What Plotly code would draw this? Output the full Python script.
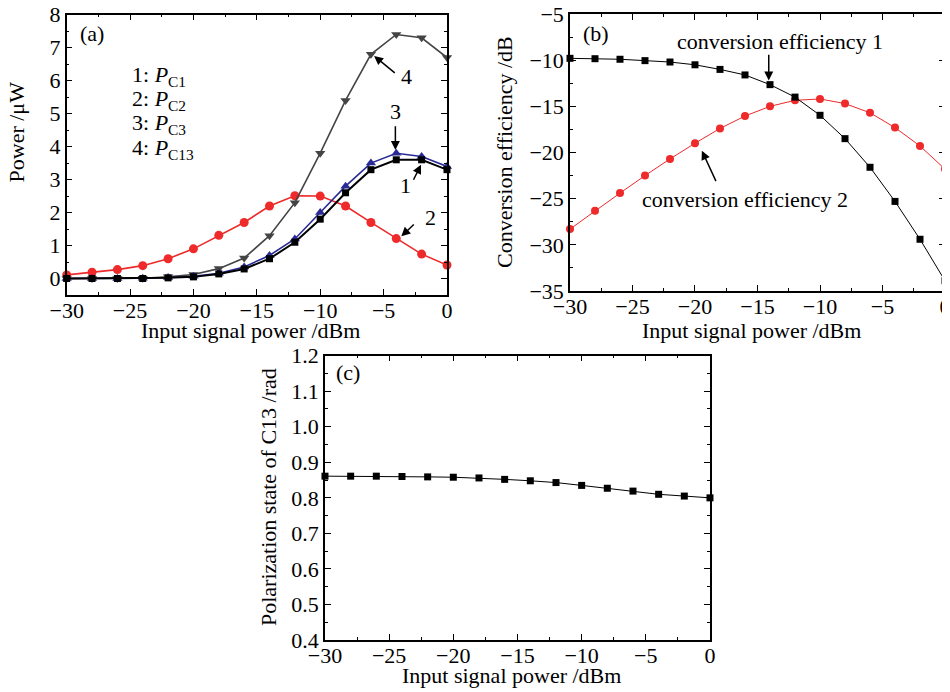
import plotly.graph_objects as go

x_dbm = [-30, -28, -26, -24, -22, -20, -18, -16, -14, -12, -10, -8, -6, -4, -2, 0]

# Panel (a): power /uW
p_c1 = [0.0, 0.0, 0.0, 0.0, 0.02, 0.05, 0.14, 0.29, 0.6, 1.1, 1.8, 2.6, 3.3, 3.6, 3.6, 3.3]
p_c2 = [0.11, 0.19, 0.27, 0.39, 0.6, 0.9, 1.31, 1.7, 2.2, 2.51, 2.5, 2.2, 1.7, 1.21, 0.74, 0.41]
p_c3 = [0.0, 0.0, 0.0, 0.01, 0.03, 0.07, 0.16, 0.35, 0.7, 1.2, 2.0, 2.8, 3.5, 3.8, 3.7, 3.4]
p_c13 = [0.0, 0.0, 0.0, 0.01, 0.05, 0.12, 0.3, 0.62, 1.3, 2.3, 3.8, 5.4, 6.8, 7.4, 7.3, 6.7]

# Panel (b): conversion efficiency /dB
ce1 = [-9.8, -9.84, -9.9, -10.05, -10.2, -10.5, -11.0, -11.6, -12.65, -14.0, -15.97, -18.5, -21.6, -25.3, -29.4, -33.9]
ce2 = [-28.3, -26.3, -24.4, -22.5, -20.7, -19.0, -17.4, -16.05, -15.0, -14.35, -14.2, -14.7, -15.7, -17.3, -19.3, -21.8]

# Panel (c): polarization state /rad
pol = [0.861, 0.861, 0.861, 0.860, 0.859, 0.858, 0.856, 0.852, 0.848, 0.843, 0.835, 0.827, 0.819, 0.810, 0.805, 0.800]

FONT = "Liberation Serif"
FS = 22
RED = "#ee2a2a"
BLUE = "#2a2a96"
GRAY = "#444444"

fig = go.Figure()

def add(x, y, color, symbol, xa, ya, size=8, width=1.6):
    fig.add_trace(go.Scatter(x=x, y=y, mode="lines+markers", xaxis=xa, yaxis=ya,
                             line=dict(color=color, width=width),
                             marker=dict(color=color, symbol=symbol, size=size),
                             showlegend=False, cliponaxis=False))

add(x_dbm, p_c2, RED, "circle", "x", "y", size=9)
add(x_dbm, p_c13, GRAY, "triangle-down", "x", "y", size=9)
add(x_dbm, p_c3, BLUE, "triangle-up", "x", "y", size=9)
add(x_dbm, p_c1, "black", "square", "x", "y", size=7, width=2)

add(x_dbm, ce2, RED, "circle", "x2", "y2", size=8, width=1)
add(x_dbm, ce1, "black", "square", "x2", "y2", size=7, width=1)

add(x_dbm, pol, "black", "square", "x3", "y3", size=7, width=1)

def common():
    return dict(ticks="inside", ticklen=6, tickwidth=1.2, tickcolor="black",
                showline=True, linecolor="black", linewidth=1.5, mirror="ticks",
                showgrid=False, zeroline=False, automargin=False, ticklabeloverflow="allow",
                tickfont=dict(family=FONT, size=FS, color="black"))

def xax(domain, anchor):
    d = dict(domain=domain, anchor=anchor, range=[-30, 0], tickmode="linear", tick0=-30, dtick=5,
             ticklabelstandoff=-5,
             minor=dict(ticks="inside", ticklen=3, tickwidth=1, dtick=2.5, tick0=-30, tickcolor="black"))
    d.update(common())
    return d

def yax(domain, anchor, rng, dtick, minor, tick0, fmt=None):
    d = dict(domain=domain, anchor=anchor, range=rng, tickmode="linear", tick0=tick0, dtick=dtick,
             minor=dict(ticks="inside", ticklen=3, tickwidth=1, dtick=minor, tickcolor="black"))
    d.update(common())
    if fmt:
        d["tickformat"] = fmt
    return d

fig.update_layout(
    width=942, height=684,
    margin=dict(l=0, r=0, t=0, b=0, autoexpand=False),
    paper_bgcolor="white", plot_bgcolor="white",
    xaxis=xax([0.0623, 0.4660], "y"),
    yaxis=yax([0.5804, 0.9902], "x", [-0.5, 8], 1, 0.5, 0),
    xaxis2=xax([0.5966, 0.9947], "y2"),
    yaxis2=yax([0.5863, 0.9912], "x2", [-35, -5], 5, 2.5, -35),
    xaxis3=xax([0.3365, 0.7452], "y3"),
    yaxis3=yax([0.0760, 0.4917], "x3", [0.4, 1.2], 0.1, 0.05, 0.4, fmt=".1f"),
)

def label(text, x, y, xr, yr, xanchor="center", size=FS, angle=0):
    fig.add_annotation(text=text, x=x, y=y, xref=xr, yref=yr, showarrow=False, textangle=angle,
                       xanchor=xanchor, yanchor="middle", font=dict(family=FONT, size=size, color="black"))

def arrow(x0, y0, x1, y1, xr, yr):
    fig.add_annotation(text="", x=x1, y=y1, ax=x0, ay=y0, xref=xr, yref=yr, axref=xr, ayref=yr,
                       showarrow=True, arrowhead=2, arrowsize=1.2, arrowwidth=1.5, arrowcolor="black")

# axis titles
XT = "Input signal power /dBm"
label(XT, 0.2574, 0.5278, "paper", "paper")
label("Power /μW", 0.0090, 0.8187, "paper", "paper", angle=-90)
label(XT, 0.7898, 0.5292, "paper", "paper")
label("Conversion efficiency /dB", 0.5276, 0.7895, "paper", "paper", angle=-90)
label(XT, 0.5350, 0.0235, "paper", "paper")
label("Polarization state of C13 /rad", 0.2771, 0.2851, "paper", "paper", angle=-90)

# panel (a)
label("(a)", -28.0, 7.44, "x", "y")
for i, (k, s) in enumerate([("1", "C1"), ("2", "C2"), ("3", "C3"), ("4", "C13")]):
    label(f"{k}: <i>P</i><sub>{s}</sub>", -25.0, [6.15, 5.4, 4.68, 3.93][i], "x", "y", xanchor="left")
label("4", -3.2, 6.13, "x", "y")
arrow(-4.0, 6.2, -5.75, 6.75, "x", "y")
label("3", -4.07, 5.07, "x", "y")
arrow(-4.07, 4.66, -4.07, 3.9, "x", "y")
label("1", -3.3, 2.82, "x", "y")
arrow(-2.7, 2.95, -2.05, 3.45, "x", "y")
label("2", -1.26, 1.84, "x", "y")
arrow(-2.5, 1.68, -3.6, 1.28, "x", "y")

# panel (b)
label("(b)", -27.9, -7.1, "x2", "y2")
label("conversion efficiency 1", -13.2, -8.0, "x2", "y2")
arrow(-14.1, -9.26, -14.1, -12.2, "x2", "y2")
label("conversion efficiency 2", -16.0, -25.07, "x2", "y2")
arrow(-18.27, -23.27, -19.45, -19.8, "x2", "y2")

# panel (c)
label("(c)", -28.2, 1.153, "x3", "y3")

fig.write_html("out.html")
